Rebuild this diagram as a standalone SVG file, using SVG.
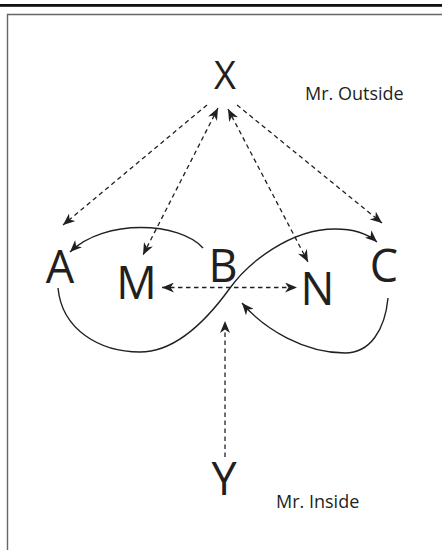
<svg xmlns="http://www.w3.org/2000/svg" width="442" height="550" viewBox="0 0 442 550">
<style>
.lbl{font-family:"Open Sans","Noto Sans","Liberation Sans",sans-serif;fill:#231f20;text-anchor:middle}
.big{font-size:45px}
.cap{font-family:"Open Sans","Noto Sans","Liberation Sans",sans-serif;fill:#231f20;font-size:18px}
.dash{fill:none;stroke:#231f20;stroke-width:1.3;stroke-dasharray:4.5 3.5}
.solid{fill:none;stroke:#231f20;stroke-width:1.4}
</style>
<defs>
<marker id="ah" viewBox="0 0 12 10" refX="12" refY="5" markerWidth="12" markerHeight="10" markerUnits="userSpaceOnUse" orient="auto-start-reverse">
<path d="M0,0 L12,5 L0,10 L3.5,5 z" fill="#231f20"/>
</marker>
</defs>
<rect x="0" y="0" width="442" height="550" fill="#fff"/>
<rect x="0" y="4" width="442" height="2.8" fill="#111"/>
<path d="M7.5,550 V14.5 H442" fill="none" stroke="#666" stroke-width="1.4"/>
<g id="connectors">
<path class="dash" d="M207,105 L63,225" marker-end="url(#ah)"/>
<path class="dash" d="M218,108 L143,255" marker-start="url(#ah)" marker-end="url(#ah)"/>
<path class="dash" d="M228,109 L308,262" marker-start="url(#ah)" marker-end="url(#ah)"/>
<path class="dash" d="M237,105 L382,223" marker-end="url(#ah)"/>
<path class="dash" d="M162,287.5 L297,287.5" marker-start="url(#ah)" marker-end="url(#ah)"/>
<path class="dash" d="M225,457 L225,321" marker-end="url(#ah)"/>
<path class="solid" d="M203,248 C180,222 105,218 70,252" marker-end="url(#ah)"/>
<path class="solid" d="M58,288 C62,330 100,352 140,352 C180,352 212,313 230,288 C248,263 290,229 335,229 C355,229 368,234 377,242" marker-end="url(#ah)"/>
<path class="solid" d="M388,298 C385,330 370,353 345,353 C305,353 265,330 242,303" marker-end="url(#ah)"/>
</g>
<g id="X"><text class="lbl" x="225" y="89" font-size="38">X</text></g>
<g id="mr-outside"><text class="cap" x="305" y="100">Mr. Outside</text></g>
<g id="A"><text class="lbl big" x="60" y="283">A</text></g>
<g id="M"><text class="lbl big" x="136.5" y="299">M</text></g>
<g id="B"><text class="lbl big" x="223" y="282">B</text></g>
<g id="N"><text class="lbl big" x="317.5" y="305">N</text></g>
<g id="C"><text class="lbl big" x="384" y="282">C</text></g>
<g id="Y"><text class="lbl big" x="224" y="495">Y</text></g>
<g id="mr-inside"><text class="cap" x="276" y="508">Mr. Inside</text></g>
</svg>
